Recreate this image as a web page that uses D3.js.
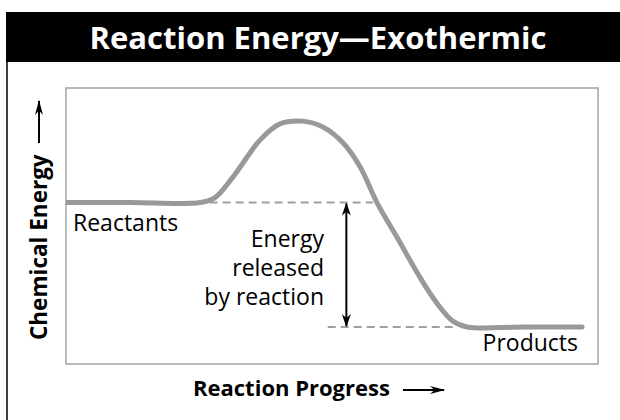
<!DOCTYPE html>
<html>
<head>
<meta charset="utf-8">
<script src="https://cdn.jsdelivr.net/npm/d3@7"></script>
<style>
  body { margin: 0; background: #fff; }
  text { font-family: "Open Sans", "Noto Sans", sans-serif; }
</style>
</head>
<body>
<div id="chart"></div>
<script>
'use strict';

// reaction progress (0-100) and chemical energy (0-100)
var progress = [0, 12, 25.2, 28, 31.4, 36.5, 40.2, 44.4, 48.3, 52.1, 55.3, 58.5, 62.2, 66.5, 69.7, 72.7, 75.4, 86, 97];
var energy   = [58.5, 58.5, 58.5, 60.3, 67.8, 81.2, 87.0, 88.0, 85.9, 80.1, 71.4, 58.3, 46.0, 31.5, 22.1, 15.6, 13.4, 13.4, 13.4];

var reactantLevel = 58.5;
var productLevel = 13.4;
var reactantDash = [27, 57.7];
var productDash = [49.2, 73];
var releaseArrowAt = 52.7;

var title = "Reaction Energy\u2014Exothermic";
var yLabel = "Chemical Energy";
var xLabel = "Reaction Progress";
var releaseLines = ["Energy", "released", "by reaction"];

var W = 620, H = 420;
var plot = { left: 66, top: 88, right: 598, bottom: 364 };

var svg = d3.select("#chart").append("svg")
    .attr("width", W)
    .attr("height", H);

var defs = svg.append("defs");
function arrowMarker(id, w, h) {
    defs.append("marker")
        .attr("id", id)
        .attr("viewBox", "0 0 " + w + " " + h)
        .attr("refX", w - 1)
        .attr("refY", h / 2)
        .attr("markerWidth", w)
        .attr("markerHeight", h)
        .attr("markerUnits", "userSpaceOnUse")
        .attr("orient", "auto-start-reverse")
        .append("path")
        .attr("d", "M0,0 L" + w + "," + (h / 2) + " L0," + h + " L" + (w * 0.3) + "," + (h / 2) + "Z")
        .attr("fill", "#000");
}
arrowMarker("arr", 13, 9);
arrowMarker("arrLong", 15, 8);

// outer frame + title bar
svg.append("line")
    .attr("x1", 7).attr("x2", 7)
    .attr("y1", 12).attr("y2", H)
    .attr("stroke", "#000").attr("stroke-width", 1.5);
svg.append("rect")
    .attr("x", 6).attr("y", 12)
    .attr("width", W - 6).attr("height", 50)
    .attr("fill", "#000");
svg.append("text")
    .attr("x", 318).attr("y", 49)
    .attr("text-anchor", "middle")
    .attr("fill", "#fff")
    .attr("font-weight", "bold")
    .attr("font-size", 31)
    .text(title);

var x = d3.scaleLinear().domain([0, 100]).range([plot.left, plot.right]);
var y = d3.scaleLinear().domain([0, 100]).range([plot.bottom, plot.top]);

// plot box
svg.append("rect")
    .attr("x", plot.left).attr("y", plot.top)
    .attr("width", plot.right - plot.left)
    .attr("height", plot.bottom - plot.top)
    .attr("fill", "none")
    .attr("stroke", "#a3a3a3")
    .attr("stroke-width", 1.5);

// dashed energy levels
[[reactantDash, reactantLevel], [productDash, productLevel]].forEach(function (d) {
    svg.append("line")
        .attr("x1", x(d[0][0])).attr("x2", x(d[0][1]))
        .attr("y1", y(d[1])).attr("y2", y(d[1]))
        .attr("stroke", "#a0a0a0")
        .attr("stroke-width", 2)
        .attr("stroke-dasharray", "8,5");
});

// energy curve
var pts = progress.map(function (p, i) { return [p, energy[i]]; });
var line = d3.line()
    .x(function (d) { return x(d[0]); })
    .y(function (d) { return y(d[1]); })
    .curve(d3.curveCatmullRom.alpha(0.5));
svg.append("path")
    .attr("d", line(pts))
    .attr("fill", "none")
    .attr("stroke", "#999")
    .attr("stroke-width", 5)
    .attr("stroke-linecap", "round");
// square off the start at the box edge
svg.append("rect")
    .attr("x", plot.left - 4).attr("y", y(reactantLevel) - 4)
    .attr("width", 3.2).attr("height", 8)
    .attr("fill", "#fff");

// energy released arrow
svg.append("line")
    .attr("x1", x(releaseArrowAt)).attr("x2", x(releaseArrowAt))
    .attr("y1", y(reactantLevel) + 1).attr("y2", y(productLevel) - 1)
    .attr("stroke", "#000").attr("stroke-width", 2)
    .attr("marker-start", "url(#arr)")
    .attr("marker-end", "url(#arr)");

svg.append("text")
    .attr("x", 324).attr("y", 247)
    .attr("text-anchor", "end")
    .attr("font-size", 23)
    .selectAll("tspan")
    .data(releaseLines)
    .join("tspan")
    .attr("x", 324)
    .attr("dy", function (d, i) { return i === 0 ? 0 : 29; })
    .text(function (d) { return d; });

svg.append("text")
    .attr("x", 73).attr("y", 231)
    .attr("font-size", 23)
    .text("Reactants");
svg.append("text")
    .attr("x", 578).attr("y", 351)
    .attr("text-anchor", "end")
    .attr("font-size", 23)
    .text("Products");

// axis titles
var yl = svg.append("g").attr("transform", "translate(47,340) rotate(-90)");
yl.append("text")
    .attr("x", 0).attr("y", 0)
    .attr("font-size", 22.5)
    .attr("font-weight", "bold")
    .text(yLabel);
yl.append("line")
    .attr("x1", 197).attr("x2", 239)
    .attr("y1", -8).attr("y2", -8)
    .attr("stroke", "#000").attr("stroke-width", 2)
    .attr("marker-end", "url(#arrLong)");

svg.append("text")
    .attr("x", 193).attr("y", 396)
    .attr("font-size", 22)
    .attr("font-weight", "bold")
    .text(xLabel);
svg.append("line")
    .attr("x1", 403).attr("x2", 444)
    .attr("y1", 390).attr("y2", 390)
    .attr("stroke", "#000").attr("stroke-width", 2)
    .attr("marker-end", "url(#arrLong)");
</script>
</body>
</html>
